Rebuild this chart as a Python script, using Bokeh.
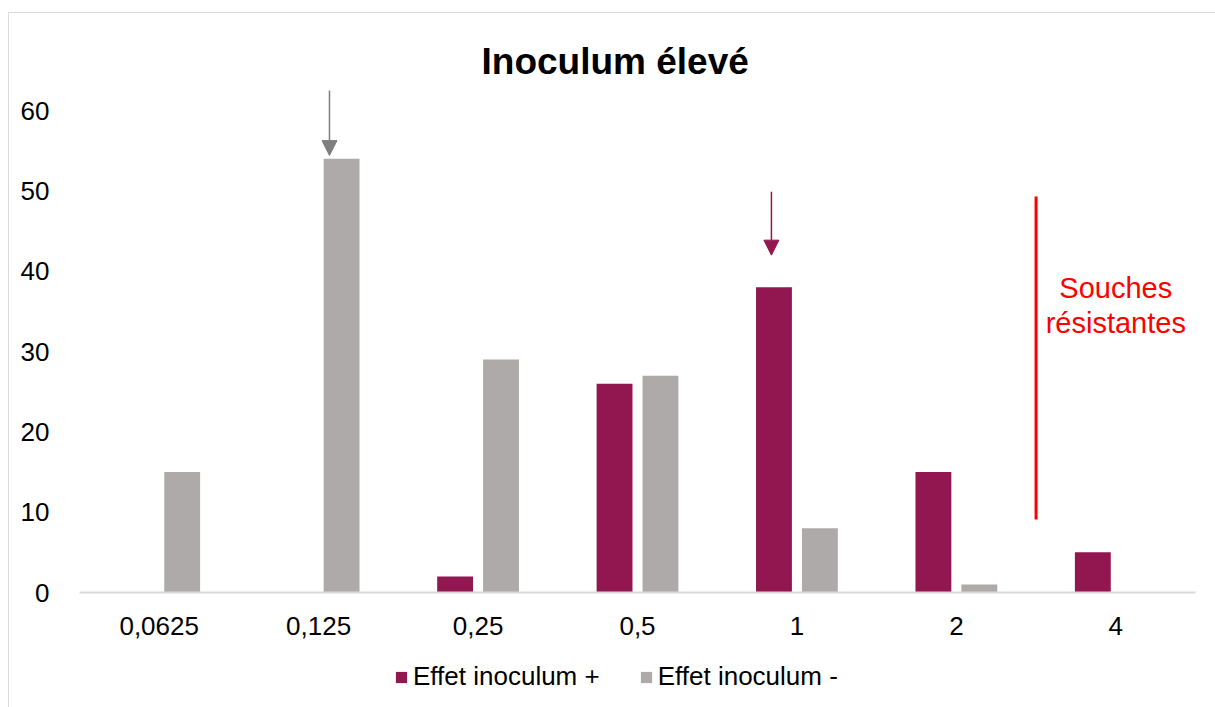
from bokeh.plotting import figure
from bokeh.layouts import column
from bokeh.models import (FactorRange, Range1d, FixedTicker, Arrow, NormalHead,
                          Legend, LegendItem, ColumnDataSource)
from bokeh.transform import dodge
from bokeh.core.properties import value
from bokeh.embed import file_html
from bokeh.resources import INLINE

# ---- data ----
categories = ["0,0625", "0,125", "0,25", "0,5", "1", "2", "4"]
effet_plus = [0, 0, 2, 26, 38, 15, 5]
effet_moins = [15, 54, 29, 27, 8, 1, 0]
y_ticks = [0, 10, 20, 30, 40, 50, 60]
series_names = ["Effet inoculum +", "Effet inoculum -"]
title_text = "Inoculum élevé"
note_lines = ["Souches", "résistantes"]

MAROON = "#921650"
GRAY = "#AEAAAA"
ARROW_GRAY = "#7F7F7F"
RED = "#FF0000"
FONT = "Liberation Sans"

src = ColumnDataSource(dict(cat=categories, plus=effet_plus, moins=effet_moins))

p = figure(width=1206, height=637,
           x_range=FactorRange(factors=categories, range_padding=0),
           y_range=Range1d(0, 63),
           output_backend="svg", toolbar_location=None,
           min_border_left=70, min_border_right=20,
           min_border_top=73, min_border_bottom=58)
p.outline_line_color = None
p.background_fill_color = "white"
p.border_fill_color = "white"
p.xgrid.visible = False
p.ygrid.visible = False

r1 = p.vbar(x=dodge("cat", -0.144, range=p.x_range), top="plus", width=0.225,
            source=src, fill_color=MAROON, line_color=None)
r2 = p.vbar(x=dodge("cat", 0.144, range=p.x_range), top="moins", width=0.225,
            source=src, fill_color=GRAY, line_color=None)

# axes
xa = p.xaxis[0]
xa.axis_line_color = "#D9D9D9"
xa.axis_line_width = 2
xa.major_tick_line_color = None
xa.minor_tick_line_color = None
xa.major_label_text_font = FONT
xa.major_label_text_font_size = "26px"
xa.major_label_text_color = "#000000"
xa.major_label_standoff = 18

ya = p.yaxis[0]
ya.ticker = FixedTicker(ticks=y_ticks)
ya.axis_line_color = None
ya.major_tick_line_color = None
ya.minor_tick_line_color = None
ya.major_label_text_font = FONT
ya.major_label_text_font_size = "26px"
ya.major_label_text_color = "#000000"
ya.major_label_standoff = 24

# title
p.title.text = title_text
p.title.text_font = FONT
p.title.text_font_size = "37px"
p.title.text_font_style = "bold"
p.title.text_color = "#000000"
p.title.align = "left"
p.title.offset = 402

# red resistance line and text
p.segment(x0=[6.0], y0=[9.1], x1=[6.0], y1=[49.3], line_color=RED, line_width=3)
p.text(x=[6.5, 6.5], y=[37.9, 33.6], text=note_lines, text_font=value(FONT),
       text_font_size="29px", text_color=RED, text_align="center",
       text_baseline="middle")

# arrows
p.add_layout(Arrow(end=NormalHead(size=15, fill_color=ARROW_GRAY, line_color=ARROW_GRAY),
                   x_start=1.568, y_start=62.5, x_end=1.568, y_end=54.4,
                   line_color=ARROW_GRAY, line_width=1.5))
p.add_layout(Arrow(end=NormalHead(size=15, fill_color=MAROON, line_color=MAROON),
                   x_start=4.34, y_start=49.9, x_end=4.34, y_end=42.0,
                   line_color=MAROON, line_width=1.5))

# legend strip (separate figure below the chart); swatch renderers sit outside its range
pl = figure(width=1206, height=57, x_range=Range1d(0, 1), y_range=Range1d(0, 1),
            output_backend="svg", toolbar_location=None,
            x_axis_type=None, y_axis_type=None,
            min_border_left=70, min_border_right=20,
            min_border_top=0, min_border_bottom=0)
pl.outline_line_color = None
pl.xgrid.visible = False
pl.ygrid.visible = False
pl.border_fill_color = "white"
lsrc = ColumnDataSource(dict(x=[-5.0], top=[0.0]))
d1 = pl.vbar(x="x", top="top", width=0.1, source=lsrc, fill_color=MAROON, line_color=None)
d2 = pl.vbar(x="x", top="top", width=0.1, source=lsrc, fill_color=GRAY, line_color=None)
legend = Legend(items=[LegendItem(label=series_names[0], renderers=[d1]),
                       LegendItem(label=series_names[1], renderers=[d2])],
                orientation="horizontal", location=(315, 15),
                glyph_width=14, glyph_height=14, label_standoff=5, spacing=39,
                padding=0, margin=0,
                label_text_font=FONT, label_text_font_size="26px",
                label_text_color="#000000", border_line_color=None,
                background_fill_alpha=0)
pl.add_layout(legend)

layout = column(p, pl, spacing=0)
layout.margin = (12, 0, 0, 8)
layout.styles = {"border-top": "1px solid #D9D9D9", "border-left": "1px solid #D9D9D9"}

open("out.html", "w").write(file_html(layout, INLINE))
